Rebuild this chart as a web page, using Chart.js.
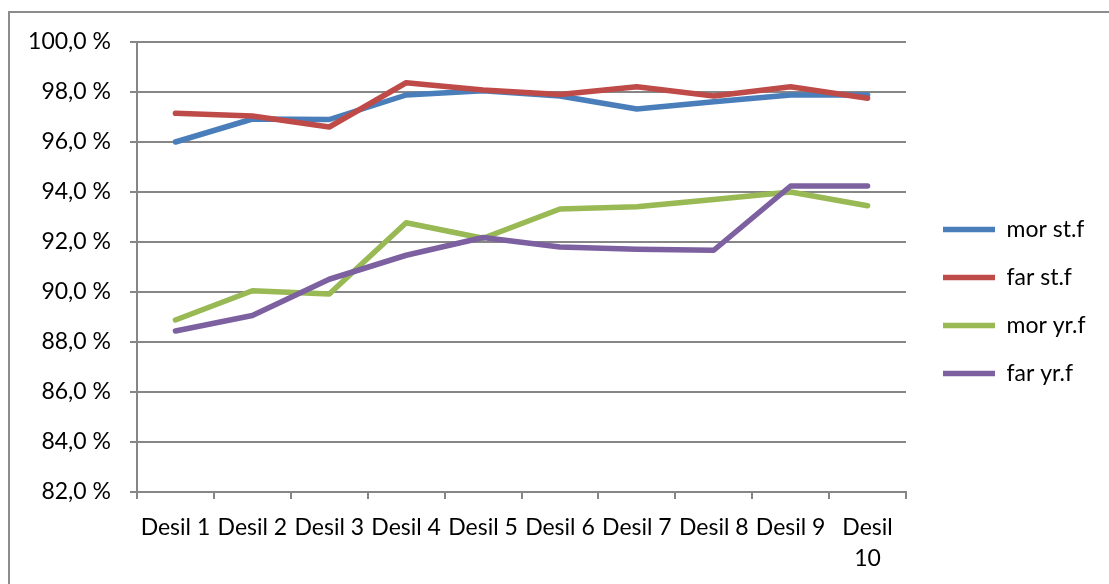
<!DOCTYPE html>
<html>
<head>
<meta charset="utf-8">
<script src="https://cdn.jsdelivr.net/npm/chart.js@4/dist/chart.umd.min.js"></script>
<style>
  html, body { margin: 0; padding: 0; background: #fff; overflow: hidden; }
  #frame {
    position: absolute; left: 8px; top: 11px; width: 1200px; height: 700px;
    border-left: 2px solid #8c8c8c; border-top: 2px solid #8c8c8c;
  }
  #wrap { position: absolute; left: 0; top: 0; width: 1109px; height: 584px; }
</style>
</head>
<body>
<div id="frame"></div>
<div id="wrap"><canvas id="chart"></canvas></div>
<script>
const desiler = ['Desil 1', 'Desil 2', 'Desil 3', 'Desil 4', 'Desil 5',
                 'Desil 6', 'Desil 7', 'Desil 8', 'Desil 9', ['Desil', '10']];

const morStf = [96.0, 96.92, 96.9, 97.88, 98.05, 97.84, 97.32, 97.61, 97.88, 97.88];
const farStf = [97.15, 97.04, 96.6, 98.37, 98.08, 97.9, 98.21, 97.84, 98.21, 97.75];
const morYrf = [88.88, 90.05, 89.92, 92.77, 92.15, 93.32, 93.41, 93.7, 94.0, 93.45];
const farYrf = [88.44, 89.06, 90.51, 91.47, 92.18, 91.8, 91.71, 91.67, 94.24, 94.24];

const serieNavn = ['mor st.f', 'far st.f', 'mor yr.f', 'far yr.f'];
const farger = ['#4a7ebb', '#be4b48', '#98b954', '#7d60a0'];

const yMin = 82, yMax = 100, yStep = 2;

const FONT = { family: 'Lato', size: 23 };
const GRID = '#868686';

// fast plassering av legend, som i Excel-figuren
const legendPlace = {
  id: 'legendPlace',
  afterInit(chart) {
    const lg = chart.legend;
    const fit = lg.fit;
    lg.fit = function () {
      fit.call(this);
      this.width = 203;
    };
  },
  afterLayout(chart) {
    const lg = chart.legend;
    lg.left = 918;
    lg.right = 1109;
    lg.top = 193;
    lg.bottom = 584;
  }
};

const ctx = document.getElementById('chart').getContext('2d');

new Chart(ctx, {
  type: 'line',
  data: {
    labels: desiler,
    datasets: [morStf, farStf, morYrf, farYrf].map((d, i) => ({
      label: serieNavn[i],
      data: d,
      borderColor: farger[i],
      backgroundColor: farger[i],
      borderWidth: 5.5,
      borderCapStyle: 'round',
      borderJoinStyle: 'round',
      tension: 0,
      pointRadius: 0,
      order: 4 - i
    }))
  },
  options: {
    responsive: true,
    maintainAspectRatio: false,
    animation: false,
    layout: { padding: { top: 42, left: 0, right: 0, bottom: 0 } },
    plugins: {
      legend: {
        position: 'right',
        align: 'start',
        labels: {
          usePointStyle: true,
          pointStyle: 'line',
          pointStyleWidth: 52,
          boxHeight: 23,
          padding: 25,
          color: '#000',
          font: FONT,
          sort: (a, b) => a.datasetIndex - b.datasetIndex
        }
      },
      tooltip: { enabled: false }
    },
    scales: {
      x: {
        offset: true,
        afterFit: s => { s.height = 92; s.paddingLeft = 0; s.paddingRight = 0; },
        grid: {
          offset: true,
          drawOnChartArea: false,
          drawTicks: true,
          tickLength: 7,
          color: GRID,
          lineWidth: 2
        },
        border: { color: GRID, width: 2 },
        ticks: {
          color: '#000',
          font: { family: 'Lato', size: 23, lineHeight: 1.35 },
          padding: 13,
          maxRotation: 0,
          autoSkip: false
        }
      },
      y: {
        min: yMin,
        max: yMax,
        afterFit: s => { s.width = 137; s.paddingTop = 0; s.paddingBottom = 0; },
        grid: {
          color: GRID,
          lineWidth: 2,
          tickLength: 7
        },
        border: { color: GRID, width: 2 },
        ticks: {
          stepSize: yStep,
          color: '#000',
          font: FONT,
          padding: 19,
          callback: v => v.toFixed(1).replace('.', ',') + ' %'
        }
      }
    }
  },
  plugins: [legendPlace]
});
</script>
</body>
</html>
